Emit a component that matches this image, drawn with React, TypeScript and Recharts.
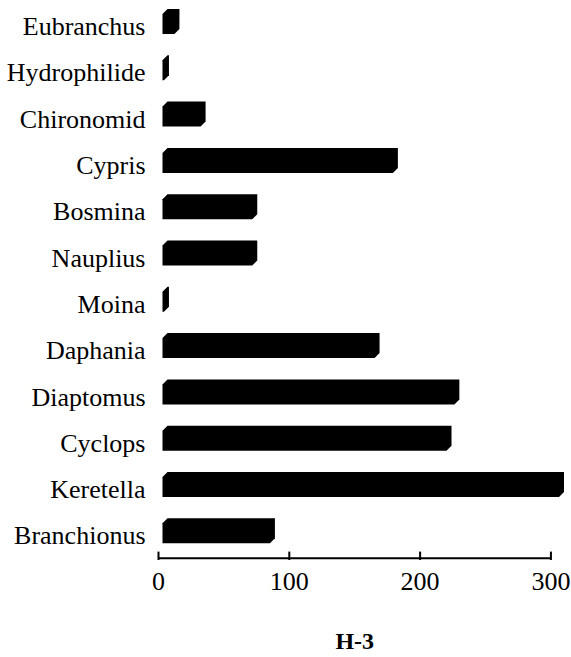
import React from 'react';
import { BarChart, Bar, XAxis, YAxis, Label } from 'recharts';

const categories = ['Eubranchus', 'Hydrophilide', 'Chironomid', 'Cypris', 'Bosmina', 'Nauplius', 'Moina', 'Daphania', 'Diaptomus', 'Cyclops', 'Keretella', 'Branchionus'];
const values = [16, 8, 36, 183, 75.5, 75.5, 8, 169, 230, 224, 310, 89];
const xTicks = [0, 100, 200, 300];
const chartTitle = 'H-3';

const data = categories.map((name, i) => ({ name, value: values[i] }));

const FONT = "'Liberation Serif', 'Times New Roman', Times, 'DejaVu Serif', serif";
const textStyle = { fontFamily: FONT };
const CHART_W = 571;
const CHART_H = 659;
const PLOT_LEFT = 158.5;
const RIGHT_MARGIN = 7;
const DOMAIN_MAX = 310;
const pxPerUnit = (CHART_W - PLOT_LEFT - RIGHT_MARGIN) / DOMAIN_MAX;

function Bar3D(props: any) {
  const { x, y, width, height } = props;
  const x0 = x + 4;
  const x1 = x + width;
  const w = Math.max(x1 - x0, 1);
  const d = Math.min(5, w);
  const pts = [
    [x0, y + d],
    [x0 + d, y],
    [x1, y],
    [x1, y + height - d],
    [x1 - d, y + height],
    [x0, y + height],
  ]
    .map((p) => p.join(','))
    .join(' ');
  return <polygon points={pts} fill="#000" />;
}

function YTick(props: any) {
  const { x, y, payload } = props;
  return (
    <text x={x - 13} y={y + 14} textAnchor="end" style={textStyle} fontSize={26} fill="#000">
      {payload.value}
    </text>
  );
}

function XTick(props: any) {
  const { x, y, payload, index } = props;
  const next = index < xTicks.length - 1 ? (xTicks[index + 1] - xTicks[index]) * pxPerUnit : 0;
  return (
    <g>
      {next > 0 && (
        <line x1={x} x2={x + next} y1={y + 4.7} y2={y + 4.7} stroke="#000" strokeWidth={2} />
      )}
      <line x1={x} x2={x} y1={y - 2} y2={y + 6.4} stroke="#000" strokeWidth={2} />
      <text x={x} y={y + 36.4} textAnchor="middle" style={textStyle} fontSize={26} fill="#000">
        {payload.value}
      </text>
    </g>
  );
}

function TitleLabel(props: any) {
  const vb = props.viewBox || {};
  return (
    <text
      x={vb.x + vb.width / 2 - 6.5}
      y={vb.y + 95.4}
      textAnchor="middle"
      style={textStyle}
      fontSize={24}
      fontWeight="bold"
      fill="#000"
    >
      {chartTitle}
    </text>
  );
}

export default function App() {
  return (
    <div style={{ position: 'absolute', left: 0, top: -2, background: '#fff' }}>
      <BarChart
        width={CHART_W}
        height={CHART_H}
        data={data}
        layout="vertical"
        margin={{ top: 0, right: RIGHT_MARGIN, bottom: 0, left: 0 }}
      >
        <XAxis
          type="number"
          domain={[0, DOMAIN_MAX]}
          ticks={xTicks}
          interval={0}
          axisLine={false}
          tickLine={false}
          tickSize={0}
          tickMargin={0}
          height={103.4}
          tick={XTick}
        >
          <Label content={TitleLabel} />
        </XAxis>
        <YAxis
          type="category"
          dataKey="name"
          width={PLOT_LEFT}
          interval={0}
          axisLine={false}
          tickLine={false}
          tickSize={0}
          tickMargin={0}
          tick={YTick}
        />
        <Bar dataKey="value" fill="#000" barSize={25} isAnimationActive={false} shape={Bar3D} />
      </BarChart>
    </div>
  );
}
